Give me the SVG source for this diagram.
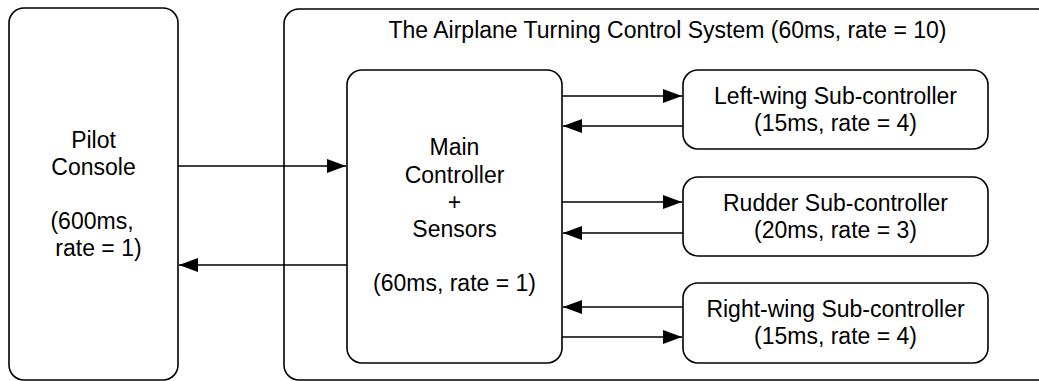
<svg xmlns="http://www.w3.org/2000/svg" width="1039" height="381" viewBox="0 0 1039 381">
  <style>
    .box { fill: #ffffff; stroke: #000000; stroke-width: 1.6; }
    .lbl { font-family: "Liberation Sans", Arial, Helvetica, sans-serif; font-size: 23px; fill: #000000; text-anchor: middle; }
    .wire { fill: none; stroke: #000000; stroke-width: 1.4; marker-end: url(#head); }
  </style>
  <defs>
    <marker id="head" markerUnits="userSpaceOnUse" markerWidth="19" markerHeight="14" refX="19" refY="7" orient="auto">
      <path d="M0,0 L19,7 L0,14 Z" fill="#000000"/>
    </marker>
  </defs>
  <rect width="1039" height="381" fill="#ffffff"/>

  <g id="pilot-console">
    <rect class="box" x="9" y="8" width="169" height="372" rx="15" ry="15"/>
    <text class="lbl" x="93.5" y="148">Pilot</text>
    <text class="lbl" x="93.5" y="175">Console</text>
    <text class="lbl" x="92" y="229">(600ms,</text>
    <text class="lbl" x="98.5" y="256">rate = 1)</text>
  </g>

  <g id="turning-control-system">
    <rect class="box" x="284" y="9" width="770" height="371" rx="15" ry="15"/>
    <text class="lbl" x="667.5" y="38">The Airplane Turning Control System (60ms, rate = 10)</text>
  </g>

  <g id="main-controller">
    <rect class="box" x="347" y="70" width="215" height="293" rx="15" ry="15"/>
    <text class="lbl" x="454.5" y="155">Main</text>
    <text class="lbl" x="454.5" y="183">Controller</text>
    <text class="lbl" x="454.5" y="210">+</text>
    <text class="lbl" x="454.5" y="237">Sensors</text>
    <text class="lbl" x="454.5" y="291">(60ms, rate = 1)</text>
  </g>

  <g id="left-wing">
    <rect class="box" x="683" y="70" width="305" height="79" rx="15" ry="15"/>
    <text class="lbl" x="835.5" y="104">Left-wing Sub-controller</text>
    <text class="lbl" x="835.5" y="131">(15ms, rate = 4)</text>
  </g>

  <g id="rudder">
    <rect class="box" x="683" y="177" width="305" height="79" rx="15" ry="15"/>
    <text class="lbl" x="835.5" y="211">Rudder Sub-controller</text>
    <text class="lbl" x="835.5" y="238">(20ms, rate = 3)</text>
  </g>

  <g id="right-wing">
    <rect class="box" x="683" y="283" width="305" height="80" rx="15" ry="15"/>
    <text class="lbl" x="835.5" y="317">Right-wing Sub-controller</text>
    <text class="lbl" x="835.5" y="344">(15ms, rate = 4)</text>
  </g>

  <g id="connectors">
    <path class="wire" d="M178,166 L346,166"/>
    <path class="wire" d="M347,265 L179,265"/>
    <path class="wire" d="M562,96 L682,96"/>
    <path class="wire" d="M683,126 L563,126"/>
    <path class="wire" d="M562,202 L682,202"/>
    <path class="wire" d="M683,233 L563,233"/>
    <path class="wire" d="M683,307 L563,307"/>
    <path class="wire" d="M562,337 L682,337"/>
  </g>
</svg>
